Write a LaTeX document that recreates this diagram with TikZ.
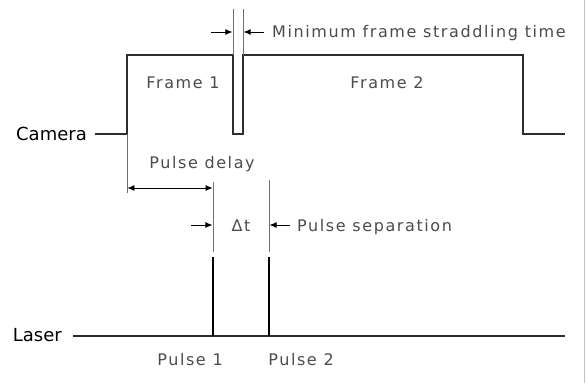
\documentclass[tikz,border=0pt]{standalone}
\usepackage{fontspec}
\setmainfont{DejaVu Sans}
\newfontfamily\lblfont[LetterSpace=10]{DejaVu Sans}
\usetikzlibrary{arrows.meta}
\definecolor{ink}{HTML}{2E2E2E}
\definecolor{muted}{HTML}{4C4C4C}
\definecolor{rule}{HTML}{707070}
\definecolor{frame}{HTML}{C4C4C4}

\tikzset{
  wave/.style={draw=ink,line width=1.8pt,line join=miter},
  beam/.style={draw=black,line width=2.6pt},
  guide/.style={draw=rule,line width=0.8pt},
  dim/.style={draw=black,line width=0.8pt,-{Latex[length=7pt,width=6pt]}},
  dimboth/.style={draw=black,line width=0.8pt,{Latex[length=7pt,width=6pt]}-{Latex[length=7pt,width=6pt]}},
  tag/.style={text=muted,font=\lblfont\fontsize{16}{18}\selectfont,inner sep=0pt},
  axis/.style={text=black,font=\fontsize{18}{20}\selectfont,inner sep=0pt},
}

\begin{document}
\begin{tikzpicture}[x=1pt,y=-1pt]
  \useasboundingbox[fill=white] (0,0) rectangle (586,383);
  \draw[frame,line width=0.8pt] (584,0) -- (584,383);

  % camera exposure signal
  \node[axis,anchor=base east] (cam) at (87,140.5) {Camera};
  \draw[wave] ([xshift=8pt]cam.east |- 0,134) -- (127,134) -- (127,55) -- (233,55)
    -- (233,134) -- (243,134) -- (243,55) -- (523,55) -- (523,134) -- (565,134);
  \node[tag,anchor=base] (f1) at (183,88) {Frame 1};
  \node[tag,anchor=base] (f2) at (387,88) {Frame 2};

  % straddling gap
  \coordinate (g1) at (233,9);
  \coordinate (g2) at (243,9);
  \draw[guide] (g1) -- (233,55);
  \draw[guide] (g2) -- (243,55);
  \draw[dim] (211,32) -- (232.4,32);
  \draw[dim] (264,32) -- (243.6,32);
  \node[tag,anchor=base west] (gap) at (272,37) {Minimum frame straddling time};

  % pulse delay
  \coordinate (d0) at (127,134);
  \coordinate (d1) at (127,193);
  \draw[guide] (d0) -- (d1);
  \node[tag,anchor=base] (delay) at (202,168) {Pulse delay};
  \draw[dimboth] (127.4,188) -- (212.6,188);

  % pulse separation
  \coordinate (p1top) at (213,182);
  \coordinate (p2top) at (269,180);
  \draw[guide] (p1top) -- (213,252);
  \draw[guide] (p2top) -- (269,252);
  \draw[dim] (191,225) -- (212.4,225);
  \draw[dim] (290,225) -- (269.6,225);
  \node[tag,anchor=base] (dt) at (241,231) {Δt};
  \node[tag,anchor=base west] (sep) at (297,231) {Pulse separation};

  % laser pulses
  \node[axis,anchor=base east] (las) at (62,341) {Laser};
  \draw[wave,line width=2.2pt] ([xshift=11pt]las.east |- 0,336) -- (565,336);
  \draw[beam] (213,257) -- (213,336);
  \draw[beam] (269,257) -- (269,336);
  \node[tag,anchor=base] (pl1) at (190,365) {Pulse 1};
  \node[tag,anchor=base] (pl2) at (301,365) {Pulse 2};
\end{tikzpicture}
\end{document}
